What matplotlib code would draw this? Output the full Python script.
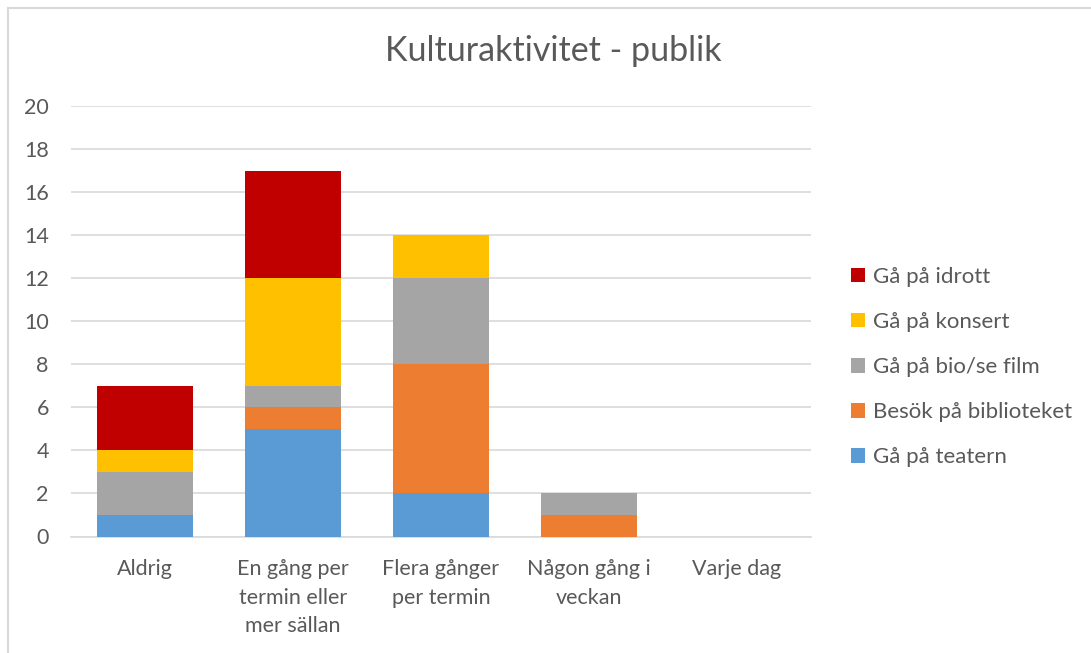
import matplotlib.pyplot as plt
from matplotlib.lines import Line2D
import numpy as np

# Data
categories = ["Aldrig", "En gång per\ntermin eller\nmer sällan", "Flera gånger\nper termin",
              "Någon gång i\nveckan", "Varje dag"]
series_names = ["Gå på teatern", "Besök på biblioteket", "Gå på bio/se film",
                "Gå på konsert", "Gå på idrott"]
teatern = [1, 5, 2, 0, 0]
bibliotek = [0, 1, 6, 1, 0]
bio = [2, 1, 4, 1, 0]
konsert = [1, 5, 2, 0, 0]
idrott = [3, 5, 0, 0, 0]
colors = ["#5B9BD5", "#ED7D31", "#A5A5A5", "#FFC000", "#C00000"]

plt.rcParams['font.family'] = ['Lato', 'DejaVu Sans']
text_color = "#595959"

fig = plt.figure(figsize=(10.91, 6.53), dpi=100)
W, H = 1091, 653
ax = fig.add_axes([71 / W, 1 - 536.5 / H, 740 / W, 430.5 / H])

x = np.arange(len(categories))
bottom = np.zeros(len(categories))
handles = []
for name, vals, c in zip(series_names, [teatern, bibliotek, bio, konsert, idrott], colors):
    b = ax.bar(x, vals, 0.65, bottom=bottom, color=c, label=name, zorder=3)
    handles.append(b)
    bottom += np.array(vals)

ax.set_xlim(-0.5, len(categories) - 0.5)
ax.set_ylim(0, 20)
ax.set_yticks(range(0, 21, 2))
ax.grid(axis='y', color="#D9D9D9", linewidth=1.2, zorder=0)
for s in ["top", "right", "left"]:
    ax.spines[s].set_visible(False)
ax.spines["bottom"].set_color("#D9D9D9")
ax.spines["bottom"].set_linewidth(1.2)
ax.tick_params(axis='both', length=0, colors=text_color, labelsize=15.5)
ax.tick_params(axis='y', pad=16)
ax.tick_params(axis='x', pad=16)
ax.set_xticks(x)
ax.set_xticklabels(categories, linespacing=1.55)

fig.text(553 / W, 1 - 51 / H, "Kulturaktivitet - publik", ha='center', va='center',
         fontsize=24.5, color=text_color)

leg = fig.legend(handles[::-1], series_names[::-1], loc='upper left',
                 bbox_to_anchor=(851 / W, 1 - 267 / H), frameon=False,
                 borderaxespad=0, borderpad=0,
                 fontsize=16, labelcolor=text_color, handlelength=0.62, handleheight=0.62,
                 handletextpad=0.35, labelspacing=1.13)

# outer border (cropped screenshot)
fig.add_artist(Line2D([7.5 / W, 7.5 / W], [0, 1 - 7.5 / H], color="#D9D9D9", lw=1.5,
                      transform=fig.transFigure))
fig.add_artist(Line2D([7.5 / W, 1], [1 - 7.5 / H, 1 - 7.5 / H], color="#D9D9D9", lw=1.5,
                      transform=fig.transFigure))

fig.savefig("out.png", dpi=100)
